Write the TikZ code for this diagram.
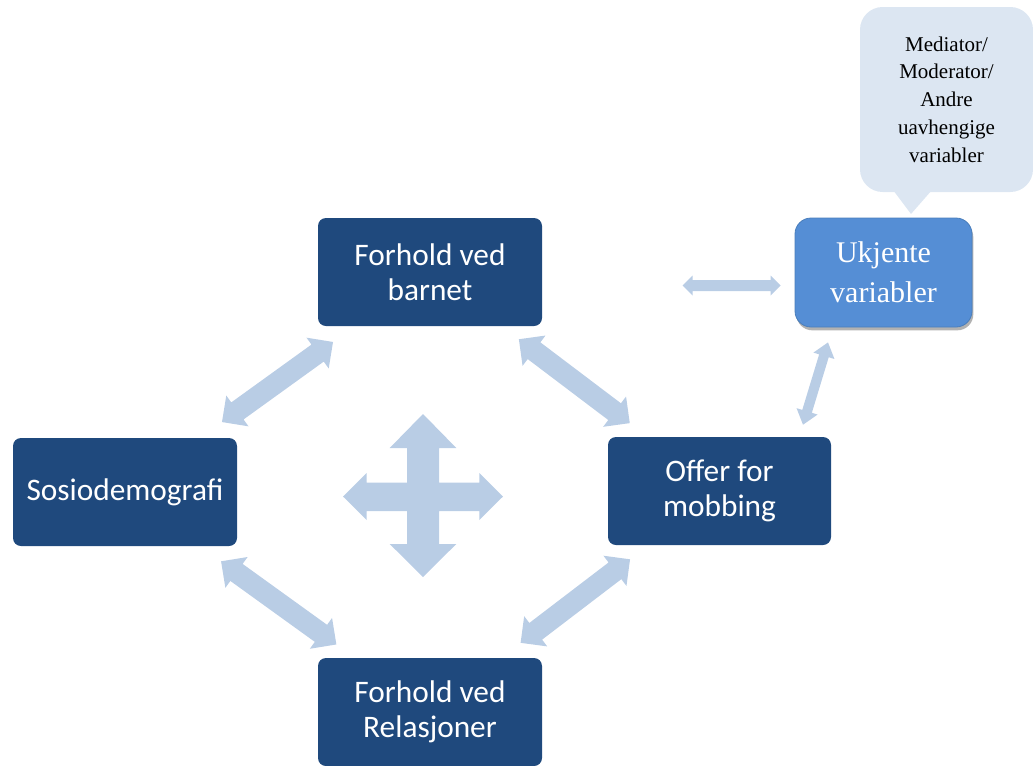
\documentclass[tikz,border=0pt]{standalone}
\usepackage{fontspec}
\setmainfont{Carlito}
\newfontfamily\timesf{Liberation Serif}
\usetikzlibrary{calc,shadows}
\definecolor{boxblue}{HTML}{1F497D}
\definecolor{arrowblue}{HTML}{B9CDE5}
\definecolor{calloutfill}{HTML}{DCE6F2}
\definecolor{ukjfill}{HTML}{558ED5}
\definecolor{ukjborder}{HTML}{4A7EBB}
% #1 A, #2 B, #3 shaft half width, #4 head half width, #5 head length
\newcommand\twoway[5]{%
  \fill[arrowblue] (#1)
   -- ($($(#1)!#5!(#2)$)!#4!90:(#2)$)
   -- ($($(#1)!#5!(#2)$)!#3!90:(#2)$)
   -- ($($(#2)!#5!(#1)$)!#3!90:(#2)$)
   -- ($($(#2)!#5!(#1)$)!#4!90:(#2)$)
   -- (#2)
   -- ($($(#2)!#5!(#1)$)!#4!270:(#2)$)
   -- ($($(#2)!#5!(#1)$)!#3!270:(#2)$)
   -- ($($(#1)!#5!(#2)$)!#3!270:(#2)$)
   -- ($($(#1)!#5!(#2)$)!#4!270:(#2)$)
   -- cycle;}
\tikzset{
  mainbox/.style={draw=none, fill=boxblue, rounded corners=6pt, text=white,
    minimum width=168pt, minimum height=81pt, inner sep=0pt, align=center,
    font=\fontsize{23.5pt}{26.25pt}\selectfont},
  ukjbox/.style={draw=ukjborder, line width=0.6pt, fill=ukjfill, rounded corners=12pt, text=white,
    minimum width=132.75pt, minimum height=81.75pt, inner sep=0pt, align=center,
    font=\timesf\fontsize{22.5pt}{30pt}\selectfont,
    drop shadow={shadow xshift=1pt, shadow yshift=-2.5pt, opacity=0.3, fill=black}},
  notebox/.style={fill=calloutfill, rounded corners=17pt, text=black,
    minimum width=129.75pt, minimum height=138.75pt, inner sep=0pt, align=center,
    font=\timesf\fontsize{15.75pt}{20.8pt}\selectfont}
}
\begin{document}
\begin{tikzpicture}[x=0.75pt, y=-0.75pt]
\useasboundingbox (0,0) rectangle (1033,765);
% boxes
\node[mainbox] (barnet) at (430,272) {Forhold ved\\barnet};
\node[mainbox] (sosio) at (125,492) {Sosiodemografi};
\node[mainbox, minimum width=167.25pt] (offer) at (719.5,491) {Offer for\\mobbing};
\node[mainbox] (relasj) at (430,712) {Forhold ved\\Relasjoner};
\node[ukjbox] (ukj) at (883.5,272.5) {Ukjente\\variabler};
% callout
\fill[calloutfill] (893,190) -- (911,214) -- (932,190) -- cycle;
\node[notebox] (note) at (946.5,99.5) {Mediator/\\Moderator/\\Andre\\uavhengige\\variabler};
% diagonal connectors
\coordinate (bs1) at ($(barnet)!0.318!(sosio)$);
\coordinate (bs2) at ($(barnet)!0.682!(sosio)$);
\coordinate (bo1) at ($(barnet)!0.307!(offer)$);
\coordinate (bo2) at ($(barnet)!0.69!(offer)$);
\coordinate (sr1) at ($(sosio)!0.315!(relasj)$);
\coordinate (sr2) at ($(sosio)!0.693!(relasj)$);
\coordinate (or1) at ($(offer)!0.309!(relasj)$);
\coordinate (or2) at ($(offer)!0.687!(relasj)$);
\twoway{bs1}{bs2}{7.875pt}{14.25pt}{14.25pt}
\twoway{bo1}{bo2}{7.875pt}{14.25pt}{14.25pt}
\twoway{sr1}{sr2}{7.875pt}{14.25pt}{14.25pt}
\twoway{or1}{or2}{7.875pt}{14.25pt}{14.25pt}
% connectors to Ukjente variabler
\coordinate (h2) at ($(ukj.west)+(-14,13)$);
\coordinate (h1) at ($(h2)+(-98,0)$);
\twoway{h1}{h2}{4.125pt}{7.5pt}{7.5pt}
\coordinate (v1) at ($(ukj.south)+(-55.5,15)$);
\coordinate (v2) at ($(offer.north)+(83.5,-12)$);
\twoway{v1}{v2}{3.75pt}{8.25pt}{10.5pt}
% central four-way arrow
\fill[arrowblue] (423,414) -- (456.3,448) -- (439,448) -- (439,482.5) -- (479.3,482.5)
  -- (479.3,473) -- (503,496.5) -- (479.3,520) -- (479.3,511) -- (439,511) -- (439,544)
  -- (456.3,544) -- (423,577) -- (389.7,544) -- (407,544) -- (407,511) -- (366.7,511)
  -- (366.7,520) -- (343,496.5) -- (366.7,473) -- (366.7,482.5) -- (407,482.5)
  -- (407,448) -- (389.7,448) -- cycle;
\end{tikzpicture}
\end{document}
